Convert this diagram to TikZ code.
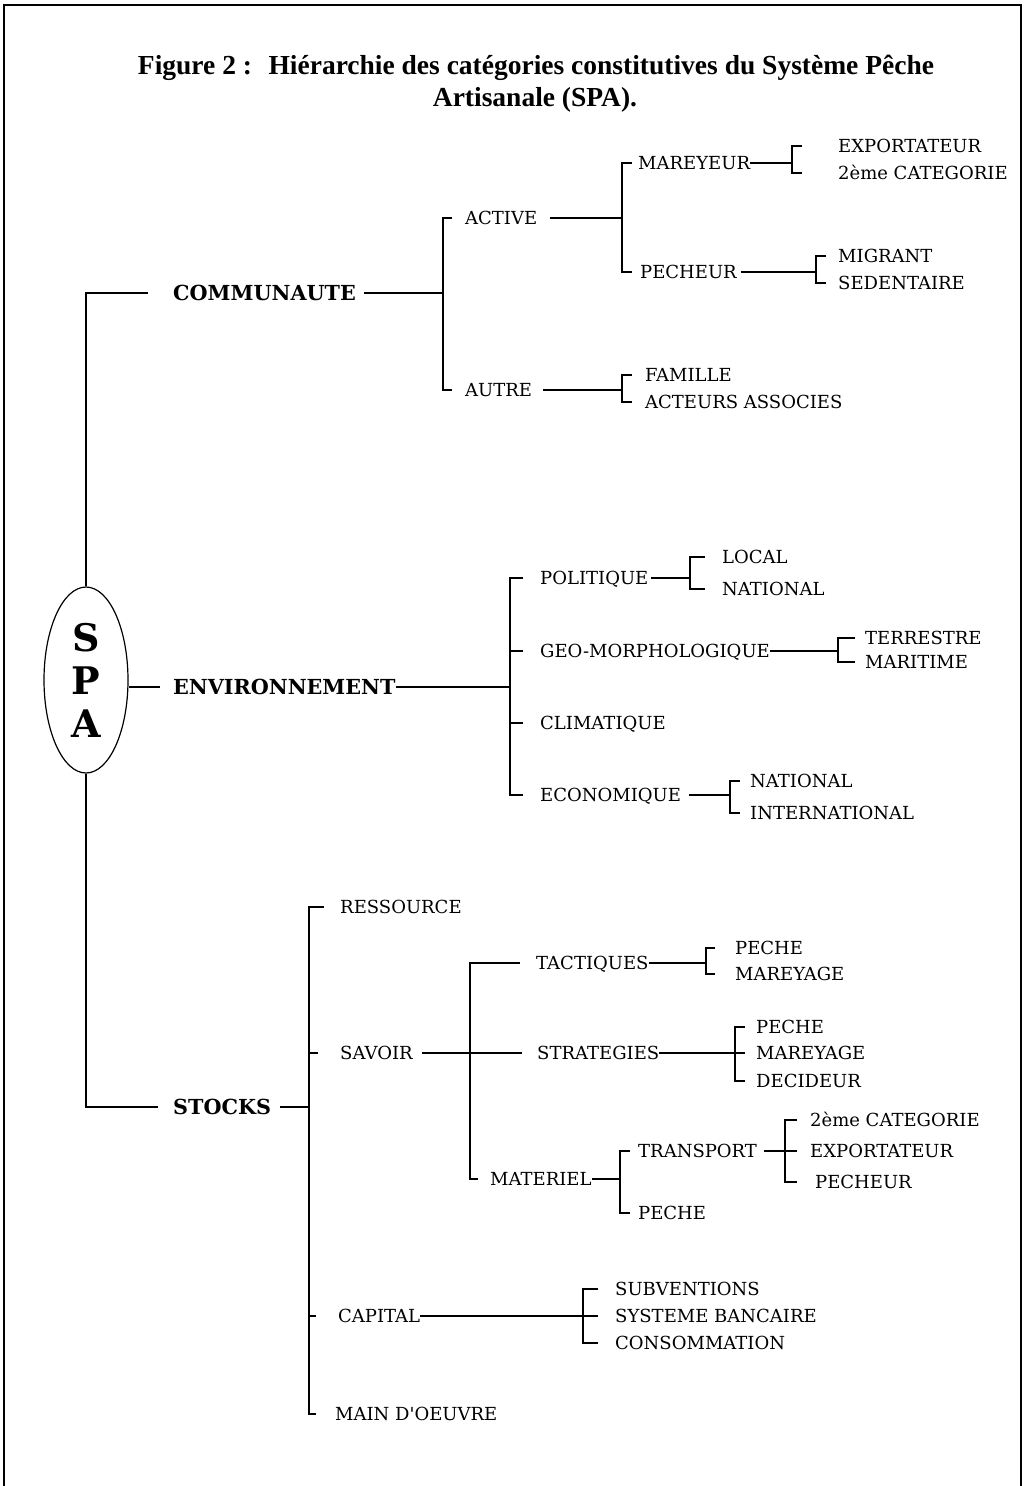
\documentclass[tikz,border=0pt]{standalone}
\usepackage{fontspec}
\usetikzlibrary{shapes.geometric}
\newfontfamily\lblfont{DejaVu Serif}
\newfontfamily\ttlfont{Liberation Serif}
\begin{document}
\begin{tikzpicture}[x=1pt,y=-1pt,
  lbl/.style={anchor=west,inner sep=0pt,text height=13.1pt,text depth=0pt,font=\lblfont\fontsize{18}{22}\selectfont},
  blbl/.style={anchor=west,inner sep=0pt,text height=15.1pt,text depth=0pt,font=\lblfont\bfseries\fontsize{20.7}{25}\selectfont},
  ttl/.style={inner sep=0pt,font=\ttlfont\bfseries\fontsize{27.5}{33}\selectfont},
  ln/.style={line width=1.2pt},
  frame/.style={line width=2pt}]
\useasboundingbox (0,0) rectangle (1028,1486);
\draw[frame] (4,1486) -- (4,5) -- (1021,5) -- (1021,1486);
% title
\node[ttl] (t1) at (536,68) {Figure 2 :\hspace{0.6em}Hiérarchie des catégories constitutives du Système Pêche};
\node[ttl] (t2) at (535,100) {Artisanale (SPA).};
% root
\node[draw,ellipse,line width=1.2pt,minimum width=84,minimum height=186,inner sep=0pt,
  font=\lblfont\bfseries\fontsize{38}{46}\selectfont,align=center] (spa) at (86,680) {S\\[-3pt]P\\[-3pt]A};
% level 1
\node[blbl] (comm) at (173,293) {COMMUNAUTE};
\node[blbl] (env) at (173,687) {ENVIRONNEMENT};
\node[blbl] (sto) at (173,1107) {STOCKS};
% communaute
\node[lbl] (act) at (465,218) {ACTIVE};
\node[lbl] (aut) at (465,390) {AUTRE};
\node[lbl] (mar) at (638,163) {MAREYEUR};
\node[lbl] (pec) at (640,272) {PECHEUR};
\node[lbl] (exp1) at (838,146) {EXPORTATEUR};
\node[lbl] (cat1) at (838,173) {2ème CATEGORIE};
\node[lbl] (mig) at (838,256) {MIGRANT};
\node[lbl] (sed) at (838,283) {SEDENTAIRE};
\node[lbl] (fam) at (645,375) {FAMILLE};
\node[lbl] (acs) at (645,402) {ACTEURS ASSOCIES};
% environnement
\node[lbl] (pol) at (540,578) {POLITIQUE};
\node[lbl] (geo) at (540,651) {GEO-MORPHOLOGIQUE};
\node[lbl] (cli) at (540,723) {CLIMATIQUE};
\node[lbl] (eco) at (540,795) {ECONOMIQUE};
\node[lbl] (loc) at (722,557) {LOCAL};
\node[lbl] (nat1) at (722,589) {NATIONAL};
\node[lbl] (ter) at (865,638) {TERRESTRE};
\node[lbl] (mari) at (865,662) {MARITIME};
\node[lbl] (nat2) at (750,781) {NATIONAL};
\node[lbl] (intl) at (750,813) {INTERNATIONAL};
% stocks
\node[lbl] (res) at (340,907) {RESSOURCE};
\node[lbl] (sav) at (340,1053) {SAVOIR};
\node[lbl] (cap) at (338,1316) {CAPITAL};
\node[lbl] (mdo) at (335,1414) {MAIN D'OEUVRE};
\node[lbl] (tac) at (536,963) {TACTIQUES};
\node[lbl] (str) at (537,1053) {STRATEGIES};
\node[lbl] (mat) at (490,1179) {MATERIEL};
\node[lbl] (tp1) at (735,948) {PECHE};
\node[lbl] (tm1) at (735,974) {MAREYAGE};
\node[lbl] (sp2) at (756,1027) {PECHE};
\node[lbl] (sm2) at (756,1053) {MAREYAGE};
\node[lbl] (sd2) at (756,1081) {DECIDEUR};
\node[lbl] (tra) at (638,1151) {TRANSPORT};
\node[lbl] (pe3) at (638,1213) {PECHE};
\node[lbl] (cat2) at (810,1120) {2ème CATEGORIE};
\node[lbl] (exp2) at (810,1151) {EXPORTATEUR};
\node[lbl] (pec2) at (815,1182) {PECHEUR};
\node[lbl] (sub) at (615,1289) {SUBVENTIONS};
\node[lbl] (sba) at (615,1316) {SYSTEME BANCAIRE};
\node[lbl] (con) at (615,1343) {CONSOMMATION};
% connectors: communaute
\draw[ln] (spa.north) |- ([xshift=-25]comm.west);
\draw[ln] ([xshift=8]comm.east) -- (443,293);
\draw[ln] ([xshift=-13]act.west) -- ++(-9,0) |- ([xshift=-13]aut.west);
\draw[ln] ([xshift=13]act.east) -- (622,218);
\draw[ln] ([xshift=-6]mar.west) -- ++(-10,0) |- ([xshift=-8]pec.west);
\draw[ln] (mar.east) -- (792,163);
\draw[ln] ([xshift=-36]exp1.west) -- ++(-10,0) |- ([xshift=-36]cat1.west);
\draw[ln] ([xshift=4]pec.east) -- (816,272);
\draw[ln] ([xshift=-12]mig.west) -- ++(-10,0) |- ([xshift=-12]sed.west);
\draw[ln] ([xshift=11]aut.east) -- (622,390);
\draw[ln] ([xshift=-13]fam.west) -- ++(-10,0) |- ([xshift=-13]acs.west);
% connectors: environnement
\draw[ln] (spa.east |- env.west) -- ([xshift=-13]env.west);
\draw[ln] (env.east) -- (510,687);
\draw[ln] ([xshift=-17]pol.west) -- ++(-13,0) |- ([xshift=-17]eco.west);
\draw[ln] ([xshift=-17]geo.west) -- ++(-13,0);
\draw[ln] ([xshift=-17]cli.west) -- ++(-13,0);
\draw[ln] ([xshift=2]pol.east) -- (690,578);
\draw[ln] ([xshift=-17]loc.west) -- ++(-15,0) |- ([xshift=-17]nat1.west);
\draw[ln] (geo.east) -- (838,651);
\draw[ln] ([xshift=-10]ter.west) -- ++(-17,0) |- ([xshift=-10]mari.west);
\draw[ln] ([xshift=8]eco.east) -- (730,795);
\draw[ln] ([xshift=-10]nat2.west) -- ++(-10,0) |- ([xshift=-10]intl.west);
% connectors: stocks
\draw[ln] (spa.south) |- ([xshift=-15]sto.west);
\draw[ln] ([xshift=9]sto.east) -- (309,1107);
\draw[ln] ([xshift=-16]res.west) -- ++(-15,0) |- ([xshift=-19]mdo.west);
\draw[ln] ([xshift=-22]sav.west) -- ++(-9,0);
\draw[ln] ([xshift=-22]cap.west) -- ++(-7,0);
\draw[ln] ([xshift=9]sav.east) -- ([xshift=-15]str.west);
\draw[ln] ([xshift=-16]tac.west) -- ++(-50,0) |- ([xshift=-12]mat.west);
\draw[ln] (tac.east) -- (706,963);
\draw[ln] ([xshift=-20]tp1.west) -- ++(-9,0) |- ([xshift=-20]tm1.west);
\draw[ln] (str.east) -- (735,1053);
\draw[ln] ([xshift=-11]sp2.west) -- ++(-10,0) |- ([xshift=-11]sd2.west);
\draw[ln] ([xshift=-11]sm2.west) -- ++(-10,0);
\draw[ln] (mat.east) -- (620,1179);
\draw[ln] ([xshift=-8]tra.west) -- ++(-10,0) |- ([xshift=-8]pe3.west);
\draw[ln] ([xshift=7]tra.east) -- (797,1151);
\draw[ln] ([xshift=-13]cat2.west) -- ++(-12,0) |- ([xshift=-18]pec2.west);
\draw[ln] ([xshift=-13]exp2.west) -- ++(-12,0);
\draw[ln] (cap.east) -- (598,1316);
\draw[ln] ([xshift=-17]sub.west) -- ++(-15,0) |- ([xshift=-17]con.west);
\draw[ln] ([xshift=-17]sba.west) -- ++(-15,0);
\end{tikzpicture}
\end{document}
